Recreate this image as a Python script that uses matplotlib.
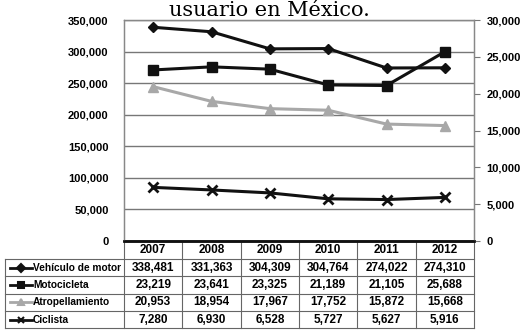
import matplotlib.pyplot as plt
import matplotlib.transforms as mtransforms
from matplotlib.ticker import FuncFormatter

# accidentes por tipo de usuario, 2007-2012
years = ['2007', '2008', '2009', '2010', '2011', '2012']
vehiculo = [338481, 331363, 304309, 304764, 274022, 274310]
motocicleta = [23219, 23641, 23325, 21189, 21105, 25688]
atropellamiento = [20953, 18954, 17967, 17752, 15872, 15668]
ciclista = [7280, 6930, 6528, 5727, 5627, 5916]
names = ['Vehículo de motor', 'Motocicleta', 'Atropellamiento', 'Ciclista']

plt.rcParams['font.family'] = ['Liberation Sans', 'DejaVu Sans']
plt.rcParams['font.weight'] = 'bold'

fig = plt.figure(figsize=(5.23, 3.36), dpi=100)
ax = fig.add_axes([124 / 523, 95 / 336, 350 / 523, 221 / 336])
ax2 = ax.twinx()

x = list(range(len(years)))
black = '#111111'
grey = '#a8a8a8'

styles = [
    (ax, vehiculo, black, 'D', 5),
    (ax2, motocicleta, black, 's', 7),
    (ax2, atropellamiento, grey, '^', 7.5),
    (ax2, ciclista, black, 'x', 6.5),
]
for a, vals, col, mk, ms in styles:
    a.plot(x, vals, color=col, lw=2.2, marker=mk, ms=ms, mew=2 if mk == 'x' else 1,
           mfc=col, mec=col, clip_on=False, zorder=3)

ax.set_xlim(-0.5, len(years) - 0.5)
ax.set_ylim(0, 350000)
ax.set_yticks(range(0, 350001, 50000))
ax2.set_ylim(0, 30000)
ax2.set_yticks(range(0, 30001, 5000))
fmt = FuncFormatter(lambda v, p: f'{int(v):,}')
ax.yaxis.set_major_formatter(fmt)
ax2.yaxis.set_major_formatter(fmt)
ax.set_xticks([])
ax.grid(axis='y', color='#777777', lw=1)
ax.set_axisbelow(True)

ax.tick_params(axis='y', length=0, pad=11, labelsize=8)
ax2.tick_params(axis='y', length=4, width=0.8, color='#777777', pad=5, labelsize=8)
for a in (ax, ax2):
    for s in ('top', 'left', 'right'):
        a.spines[s].set_color('#888888')
        a.spines[s].set_linewidth(0.9)
    a.spines['bottom'].set_color(black)
    a.spines['bottom'].set_linewidth(1.8)

# tabla de datos bajo el eje
trans = mtransforms.blended_transform_factory(ax.transData, ax.transAxes)
row_h = 17.3 / 221
head_h = 18 / 221
line_kw = dict(color='#666666', lw=0.8, clip_on=False, transform=ax.transAxes)
left = -119 / 350
bottom = -(head_h + 4 * row_h)

for i, yr in enumerate(years):
    ax.text(i, -head_h / 2, yr, transform=trans, ha='center', va='center', fontsize=8.5)

rows = [vehiculo, motocicleta, atropellamiento, ciclista]
for r, (vals, st, name) in enumerate(zip(rows, styles, names)):
    yc = -head_h - (r + 0.5) * row_h
    for i, v in enumerate(vals):
        ax.text(i, yc, f'{v:,}', transform=trans, ha='center', va='center', fontsize=8.5)
    col, mk = st[2], st[3]
    ax.plot([left + 5 / 350, left + 27 / 350], [yc, yc], color=col, lw=2,
            transform=ax.transAxes, clip_on=False)
    ax.plot([left + 16 / 350], [yc], color=col, marker=mk, ms=4.5, mew=1.5,
            transform=ax.transAxes, clip_on=False)
    ax.text(left + 28 / 350, yc, name, transform=ax.transAxes, ha='left', va='center',
            fontsize=7.3)
    ytop = -head_h - r * row_h
    ax.plot([left, 1], [ytop, ytop], **line_kw)
ax.plot([left, 1], [bottom, bottom], **line_kw)
ax.plot([left, left], [-head_h, bottom], **line_kw)
for i in range(len(years) + 1):
    xb = i / len(years)
    ax.plot([xb, xb], [0, bottom], **line_kw)

fig.text(0.516, (336 - 16) / 336, 'usuario en México.', ha='center', va='baseline',
         fontsize=15, fontweight='normal', family='DejaVu Serif')

fig.savefig('out.png', dpi=100)
